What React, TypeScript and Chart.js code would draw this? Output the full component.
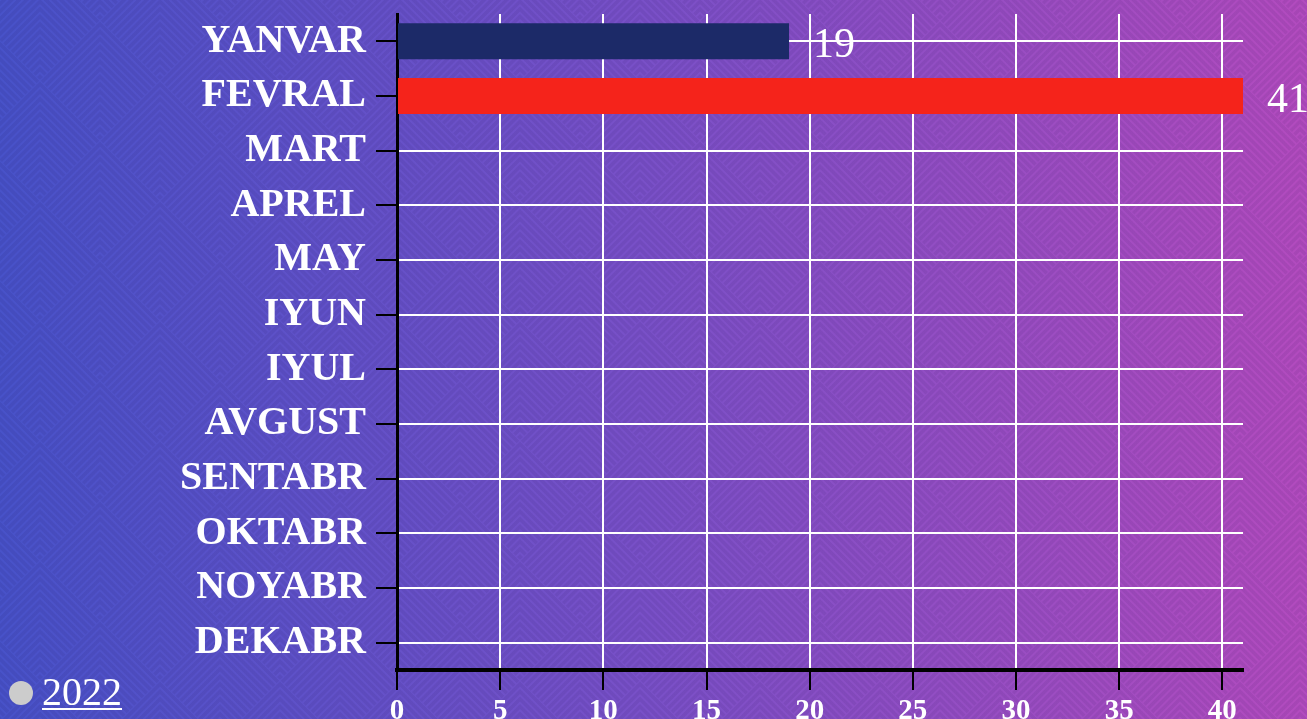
import React, { useEffect, useRef } from "react";
import { Chart, registerables } from "chart.js";

Chart.register(...registerables);

const categories = [
  "YANVAR", "FEVRAL", "MART", "APREL", "MAY", "IYUN",
  "IYUL", "AVGUST", "SENTABR", "OKTABR", "NOYABR", "DEKABR",
];
const seriesName = "2022";
const values: (number | null)[] = [19, 41, null, null, null, null, null, null, null, null, null, null];
const barColors = ["#1c2a68", "#f5231b", "#1c2a68", "#1c2a68", "#1c2a68", "#1c2a68", "#1c2a68", "#1c2a68", "#1c2a68", "#1c2a68", "#1c2a68", "#1c2a68"];
const xMin = 0;
const xMax = 41;
const xStep = 5;

const SERIF = "'Liberation Serif', 'Times New Roman', serif";

function makePattern(ctx: CanvasRenderingContext2D) {
  const T = 120;
  const c = document.createElement("canvas");
  c.width = T;
  c.height = T;
  const g = c.getContext("2d")!;
  g.strokeStyle = "rgba(20,0,60,0.075)";
  g.lineWidth = 3.5;
  const drawDiamond = (cx: number, cy: number) => {
    g.save();
    g.beginPath();
    g.moveTo(cx, cy - T / 2);
    g.lineTo(cx + T / 2, cy);
    g.lineTo(cx, cy + T / 2);
    g.lineTo(cx - T / 2, cy);
    g.closePath();
    g.clip();
    for (let k = -T / 2 + 4; k <= T / 2; k += 7.5) {
      g.beginPath();
      g.moveTo(cx - T, cy + k + T);
      g.lineTo(cx, cy + k);
      g.lineTo(cx + T, cy + k + T);
      g.stroke();
    }
    g.restore();
  };
  drawDiamond(T / 2, T / 2);
  drawDiamond(0, 0);
  drawDiamond(T, 0);
  drawDiamond(0, T);
  drawDiamond(T, T);
  return ctx.createPattern(c, "repeat");
}

const backgroundPlugin = {
  id: "bgPattern",
  beforeDraw(chart: any) {
    const { ctx, width, height } = chart;
    ctx.save();
    const grad = ctx.createLinearGradient(0, 0, width, 0);
    grad.addColorStop(0, "#4852c9");
    grad.addColorStop(0.5, "#7a50c8");
    grad.addColorStop(1, "#b34bbf");
    ctx.fillStyle = grad;
    ctx.fillRect(0, 0, width, height);
    const pat = makePattern(ctx);
    if (pat) {
      ctx.translate(40 - 60, 140 - 60);
      ctx.fillStyle = pat;
      ctx.fillRect(-200, -200, width + 400, height + 400);
    }
    ctx.restore();
  },
};

const valueLabelPlugin = {
  id: "valueLabels",
  afterDatasetsDraw(chart: any) {
    const { ctx } = chart;
    const meta = chart.getDatasetMeta(0);
    const data = chart.data.datasets[0].data;
    ctx.save();
    ctx.fillStyle = "#ffffff";
    ctx.font = `normal 42px ${SERIF}`;
    ctx.textAlign = "left";
    ctx.textBaseline = "alphabetic";
    meta.data.forEach((bar: any, i: number) => {
      const v = data[i];
      if (v === null || v === undefined) return;
      ctx.fillText(String(v), bar.x + 24, bar.y + 16);
    });
    ctx.restore();
  },
};

const legendPlugin = {
  id: "customLegend",
  afterDraw(chart: any) {
    const { ctx } = chart;
    ctx.save();
    ctx.fillStyle = "#cccccc";
    ctx.beginPath();
    ctx.arc(21, 693, 12, 0, Math.PI * 2);
    ctx.fill();
    ctx.fillStyle = "#ffffff";
    ctx.font = `normal 40px ${SERIF}`;
    ctx.textAlign = "left";
    ctx.textBaseline = "alphabetic";
    const text = chart.data.datasets[0].label;
    ctx.fillText(text, 42, 705);
    const w = ctx.measureText(text).width;
    ctx.fillRect(42, 708, w, 2);
    ctx.restore();
  },
};

export default function App() {
  const ref = useRef<HTMLCanvasElement | null>(null);
  useEffect(() => {
    if (!ref.current) return;
    const chart = new Chart(ref.current, {
      type: "bar",
      data: {
        labels: categories,
        datasets: [
          {
            label: seriesName,
            data: values,
            backgroundColor: barColors,
            borderWidth: 0,
            categoryPercentage: 1,
            barPercentage: 0.66,
          },
        ],
      },
      options: {
        indexAxis: "y",
        animation: false,
        responsive: false,
        layout: { padding: { top: 14, right: 64, left: 0, bottom: 0 } },
        plugins: {
          legend: { display: false },
          tooltip: { enabled: false },
        },
        scales: {
          x: {
            type: "linear",
            min: xMin,
            max: xMax,
            ticks: {
              stepSize: xStep,
              includeBounds: false,
              color: "#ffffff",
              font: { family: SERIF, size: 29, weight: "bold" },
              padding: 4,
              maxRotation: 0,
            },
            grid: {
              color: "#ffffff",
              lineWidth: 2,
              tickColor: "#000000",
              tickWidth: 2,
              tickLength: 20,
              drawTicks: true,
            },
            border: { color: "#000000", width: 4 },
            afterFit(scale: any) {
              scale.height = 49;
              scale.paddingLeft = 0;
              scale.paddingRight = 0;
            },
          },
          y: {
            type: "category",
            offset: true,
            ticks: {
              color: "#ffffff",
              font: { family: SERIF, size: 40, weight: "bold" },
              padding: 10,
              autoSkip: false,
            },
            grid: {
              offset: false,
              color: "#ffffff",
              lineWidth: 2,
              tickColor: "#000000",
              tickWidth: 2,
              tickLength: 21,
            },
            border: { color: "#000000", width: 3 },
            afterFit(scale: any) {
              scale.width = 397;
              scale.paddingTop = 0;
              scale.paddingBottom = 0;
            },
          },
        },
      },
      plugins: [backgroundPlugin, valueLabelPlugin, legendPlugin],
    });
    return () => chart.destroy();
  }, []);

  return (
    <div style={{ position: "fixed", left: 0, top: 0, width: 1307, height: 719, overflow: "hidden" }}>
      <canvas ref={ref} width={1307} height={719} style={{ display: "block" }} />
    </div>
  );
}
